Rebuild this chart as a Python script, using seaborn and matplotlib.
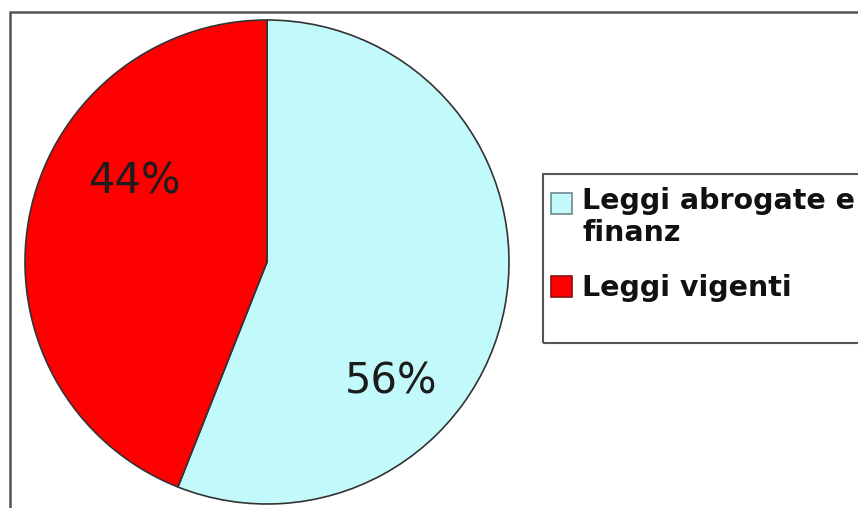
import matplotlib
matplotlib.use("Agg")
import matplotlib.pyplot as plt
from matplotlib.patches import Rectangle, Patch
from matplotlib.legend_handler import HandlerPatch
import seaborn as sns

# Share of laws by status
categories = ["Leggi abrogate e\nfinanz", "Leggi vigenti"]
shares = [56, 44]
colors = ["#C2FAFB", "#FF0000"]
edge_colors = ["#6E8A8C", "#8A1010"]

sns.set_theme(style="white")
plt.rcParams["font.family"] = ["DejaVu Sans"]

W, H = 858, 508
fig = plt.figure(figsize=(W / 100, H / 100), dpi=100)
fig.patch.set_facecolor("white")
ax = fig.add_axes([0, 0, 1, 1])

wedges, _ = ax.pie(shares, colors=colors, startangle=90, counterclock=False,
                   center=(267, 246), radius=242,
                   wedgeprops=dict(edgecolor="#333333", linewidth=1.2))

# pie() resets the view, so fix the pixel-like coordinate frame afterwards
ax.set_xlim(0, W)
ax.set_ylim(0, H)
ax.set_aspect("equal")
ax.axis("off")

# Outer frame of the chart area
ax.add_patch(Rectangle((10, -20), 900, H - 12 + 20, fill=False,
                       edgecolor="#555555", lw=1.8, zorder=0))

# Percentage labels
label_pos = [(391, 126), (135, 326)]
for (x, y), v in zip(label_pos, shares):
    ax.text(x, y, f"{v}%", ha="center", va="center", fontsize=30,
            color="#1c1c1c")

# Legend box
ax.add_patch(Rectangle((543, H - 343), 400, 343 - 174, fill=False,
                       edgecolor="#555555", lw=1.5, zorder=1))
handles = [Patch(facecolor=c, edgecolor=e, lw=1.2)
           for c, e in zip(colors, edge_colors)]


def first_line_square(legend, orig_handle, xdescent, ydescent, width,
                      height, fontsize):
    # keep the swatch level with the first line of a wrapped label
    return Rectangle((-xdescent, -ydescent + 0.5 * fontsize), width, height)


ax.legend(handles, categories, loc="upper left",
          bbox_to_anchor=(548 / W, (H - 184) / H), frameon=False,
          prop=dict(size=20.5, weight="bold"), handlelength=0.75,
          handleheight=0.75, handletextpad=0.35, labelspacing=0.95,
          borderaxespad=0, borderpad=0.1, labelcolor="#111111",
          handler_map={handles[0]: HandlerPatch(patch_func=first_line_square)})

fig.savefig("out.png", dpi=100, facecolor="white")
